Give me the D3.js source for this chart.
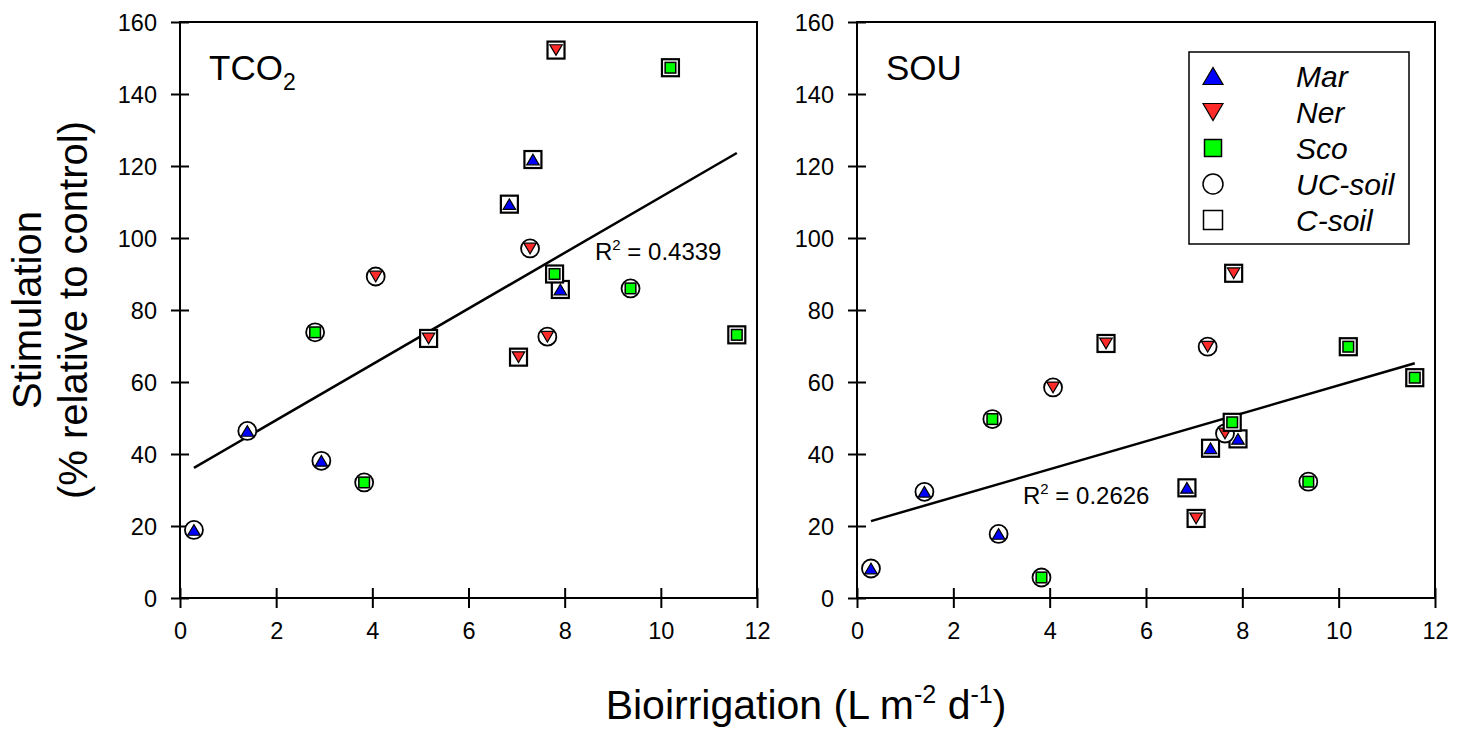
<!DOCTYPE html>
<html>
<head>
<meta charset="utf-8">
<script src="https://cdn.jsdelivr.net/npm/d3@7"></script>
<style>
  body { margin: 0; background: #fff; }
  svg { font-family: "Liberation Sans", Arial, sans-serif; }
</style>
</head>
<body>
<script>
// bioirrigation (x) and stimulation values, per species
// soil: UC = uncontaminated soil (circle), C = contaminated soil (square)
const marX = [0.29, 1.40, 2.94, 6.85, 7.34, 7.91];
const marSoil = ["UC", "UC", "UC", "C", "C", "C"];
const marTCO2 = [18.9, 46.4, 38.1, 109.4, 121.8, 85.7];
const marSOU = [8.2, 29.5, 17.8, 30.6, 41.6, 44.2];

const nerX = [4.07, 7.28, 7.64, 5.17, 7.04, 7.82];
const nerSoil = ["UC", "UC", "UC", "C", "C", "C"];
const nerTCO2 = [89.3, 97.1, 72.6, 72.1, 66.9, 152.2];
const nerSOU = [58.5, 69.8, 45.7, 70.7, 22.1, 90.2];

const scoX = [2.81, 3.83, 9.37, 7.79, 10.2, 11.58];
const scoSoil = ["UC", "UC", "UC", "C", "C", "C"];
const scoTCO2 = [73.8, 32.1, 86.0, 90.0, 147.3, 73.1];
const scoSOU = [49.7, 5.7, 32.3, 48.8, 69.8, 61.2];

const xTicks = [0, 2, 4, 6, 8, 10, 12];
const yTicks = [0, 20, 40, 60, 80, 100, 120, 140, 160];
const r2Labels = ["0.4339", "0.2626"];
const legendLabels = ["Mar", "Ner", "Sco", "UC-soil", "C-soil"];

const W = 1468, H = 736;
const colors = { Mar: "#0000ff", Ner: "#ff2a2a", Sco: "#00ff00" };

const svg = d3.select("body").append("svg").attr("width", W).attr("height", H);

function rows(key) {
  const out = [];
  const add = (sp, xs, soil, ys) => xs.forEach((x, i) => out.push({ sp, x, soil: soil[i], y: ys[i] }));
  add("Mar", marX, marSoil, key === "TCO2" ? marTCO2 : marSOU);
  add("Ner", nerX, nerSoil, key === "TCO2" ? nerTCO2 : nerSOU);
  add("Sco", scoX, scoSoil, key === "TCO2" ? scoTCO2 : scoSOU);
  return out;
}

// least squares fit
function fit(data) {
  const mx = d3.mean(data, d => d.x), my = d3.mean(data, d => d.y);
  const b = d3.sum(data, d => (d.x - mx) * (d.y - my)) / d3.sum(data, d => (d.x - mx) ** 2);
  return { a: my - b * mx, b };
}

const triDown = (s) => {
  const h = s * 0.85;
  return `M${-s / 2},${-h / 2}L${s / 2},${-h / 2}L0,${h / 2}Z`;
};
const triUp = (s) => {
  const h = s * 0.85;
  return `M${-s / 2},${h / 2}L${s / 2},${h / 2}L0,${-h / 2}Z`;
};

function marker(g, sp, size) {
  if (sp === "Mar") {
    g.append("path").attr("d", triUp(size)).attr("fill", colors.Mar).attr("stroke", "#000").attr("stroke-width", 1.2);
  } else if (sp === "Ner") {
    g.append("path").attr("d", triDown(size)).attr("fill", colors.Ner).attr("stroke", "#000").attr("stroke-width", 1.2);
  } else {
    const s = size * 0.85;
    g.append("rect").attr("x", -s / 2).attr("y", -s / 2).attr("width", s).attr("height", s)
      .attr("fill", colors.Sco).attr("stroke", "#000").attr("stroke-width", 1.5);
  }
}

function panel(left, right, key, label, r2, r2pos, showLegend) {
  const x = d3.scaleLinear().domain([0, 12]).range([left, right]);
  const y = d3.scaleLinear().domain([0, 160]).range([598, 22]);
  const g = svg.append("g");

  // frame
  g.append("rect").attr("x", left).attr("y", y(160)).attr("width", right - left).attr("height", y(0) - y(160))
    .attr("fill", "none").attr("stroke", "#000").attr("stroke-width", 2);

  const xa = g.append("g").attr("transform", `translate(0,${y(0)})`)
    .call(d3.axisBottom(x).tickValues(xTicks).tickSize(10).tickPadding(14).tickFormat(d3.format("d")));
  xa.select(".domain").remove();
  xa.selectAll(".tick line").attr("y1", -10).attr("stroke-width", 2);
  xa.selectAll("text").attr("font-size", 23.5).attr("fill", "#000").attr("font-family", "Liberation Sans, Arial");

  const ya = g.append("g").attr("transform", `translate(${left},0)`)
    .call(d3.axisLeft(y).tickValues(yTicks).tickSize(9).tickPadding(14).tickFormat(d3.format("d")));
  ya.select(".domain").remove();
  ya.selectAll(".tick line").attr("x1", 9).attr("stroke-width", 2);
  ya.selectAll("text").attr("font-size", 23.5).attr("fill", "#000").attr("font-family", "Liberation Sans, Arial").attr("dy", "0.36em");

  const data = rows(key);
  const f = fit(data);
  const x0 = d3.min(data, d => d.x), x1 = d3.max(data, d => d.x);
  g.append("line").attr("x1", x(x0)).attr("y1", y(f.a + f.b * x0)).attr("x2", x(x1)).attr("y2", y(f.a + f.b * x1))
    .attr("stroke", "#000").attr("stroke-width", 2.5);

  const pts = g.selectAll("g.pt").data(data).enter().append("g")
    .attr("transform", d => `translate(${x(d.x)},${y(d.y)})`);
  pts.each(function (d) {
    const p = d3.select(this);
    if (d.soil === "UC") {
      p.append("circle").attr("r", 9).attr("fill", "#fff").attr("stroke", "#000").attr("stroke-width", 1.8);
    } else {
      p.append("rect").attr("x", -8.5).attr("y", -8.5).attr("width", 17).attr("height", 17)
        .attr("fill", "#fff").attr("stroke", "#000").attr("stroke-width", 2.2);
    }
    marker(p, d.sp, 12.5);
  });

  // panel label
  const t = g.append("text").attr("x", left + 29).attr("y", 80).attr("font-size", 35).text(label);
  if (label === "TCO") {
    t.append("tspan").attr("font-size", 23).attr("dy", 10).text("2");
  }

  // R squared
  const rt = g.append("text").attr("x", r2pos[0]).attr("y", r2pos[1]).attr("font-size", 24);
  rt.append("tspan").text("R");
  rt.append("tspan").attr("font-size", 15).attr("dy", -10).text("2");
  rt.append("tspan").attr("dy", 10).text(" = " + r2);

  if (showLegend) {
    const lg = g.append("g");
    lg.append("rect").attr("x", 1189).attr("y", 52).attr("width", 220).attr("height", 192)
      .attr("fill", "#fff").attr("stroke", "#000").attr("stroke-width", 1.5);
    const ly = [76, 112, 148, 184, 220];
    legendLabels.forEach((lab, i) => {
      const m = lg.append("g").attr("transform", `translate(1213,${ly[i]})`);
      if (i < 3) marker(m, lab, 20);
      else if (i === 3) m.append("circle").attr("r", 10).attr("fill", "#fff").attr("stroke", "#000").attr("stroke-width", 1.5);
      else m.append("rect").attr("x", -9.5).attr("y", -9.5).attr("width", 19).attr("height", 19)
        .attr("fill", "#fff").attr("stroke", "#000").attr("stroke-width", 1.5);
      lg.append("text").attr("x", 1296).attr("y", ly[i] + 11).attr("font-size", 30).attr("font-style", "italic").text(lab);
    });
  }
}

panel(180, 757, "TCO2", "TCO", r2Labels[0], [595, 260], false);
panel(857, 1435, "SOU", "SOU", r2Labels[1], [1023, 504], true);

// y axis title
const yt = svg.append("text").attr("transform", "translate(41,310) rotate(-90)")
  .attr("text-anchor", "middle").attr("font-size", 40);
yt.append("tspan").attr("x", 0).attr("dy", 0).text("Stimulation");
yt.append("tspan").attr("x", 0).attr("dy", 46).text("(% relative to control)");

// x axis title
const xt = svg.append("text").attr("x", 806).attr("y", 719).attr("text-anchor", "middle").attr("font-size", 41);
xt.append("tspan").text("Bioirrigation (L m");
xt.append("tspan").attr("font-size", 25).attr("dy", -16).text("-2");
xt.append("tspan").attr("dy", 16).text(" d");
xt.append("tspan").attr("font-size", 25).attr("dy", -16).text("-1");
xt.append("tspan").attr("dy", 16).text(")");
</script>
</body>
</html>
